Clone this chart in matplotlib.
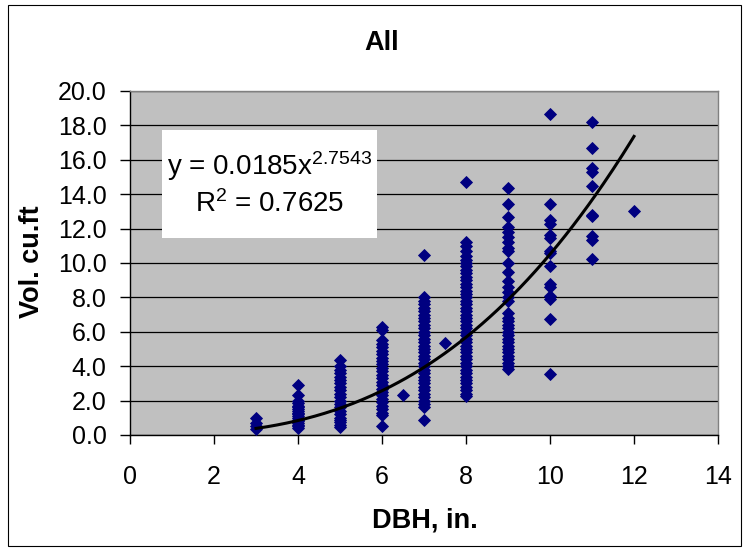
import matplotlib
matplotlib.use("Agg")
import matplotlib.pyplot as plt
import numpy as np
from matplotlib.patches import Rectangle

plt.rcParams['font.family'] = ['Liberation Sans', 'DejaVu Sans']
plt.rcParams['mathtext.fontset'] = 'custom'
plt.rcParams['mathtext.rm'] = 'Liberation Sans'
plt.rcParams['mathtext.it'] = 'Liberation Sans'

# --- data ---
vol_d3 = [0.35, 0.5, 0.7, 1.0]
vol_d4 = [0.4, 0.5, 0.6, 0.7, 0.8, 0.9, 1.0, 1.1, 1.2, 1.3, 1.4, 1.5, 1.6, 1.7,
          1.85, 2.0, 2.3, 2.9]
vol_d5 = [0.45, 0.6, 0.75, 0.9, 1.0, 1.2, 1.4, 1.6, 1.8, 2.0, 2.2, 2.4, 2.6,
          2.8, 3.0, 3.2, 3.4, 3.6, 3.8, 4.0, 4.35]
vol_d6 = [0.55, 1.15, 1.3, 1.5, 1.7, 1.9, 2.1, 2.3, 2.5, 2.7, 2.9, 3.1, 3.3,
          3.5, 3.7, 3.9, 4.1, 4.3, 4.5, 4.7, 4.9, 5.1, 5.3, 5.5, 6.1, 6.3]
vol_d6_5 = [2.35]
vol_d7 = [0.87, 1.65, 1.8, 2.0, 2.2, 2.4, 2.6, 2.8, 3.0, 3.2, 3.4, 3.6, 3.8,
          4.0, 4.2, 4.4, 4.6, 4.8, 5.0, 5.2, 5.4, 5.6, 5.8, 6.0, 6.2, 6.4,
          6.6, 6.8, 7.0, 7.2, 7.4, 7.6, 7.8, 8.0, 10.45]
vol_d7_5 = [5.35]
vol_d8 = [2.25, 2.4, 2.6, 2.8, 3.0, 3.2, 3.4, 3.6, 3.8, 4.0, 4.2, 4.4, 4.6,
          4.8, 5.0, 5.2, 5.4, 5.6, 5.8, 6.0, 6.2, 6.4, 6.6, 6.8, 7.0, 7.2,
          7.4, 7.6, 7.8, 8.0, 8.2, 8.4, 8.6, 8.8, 9.0, 9.2, 9.4, 9.6, 9.8,
          10.0, 10.2, 10.4, 10.7, 11.0, 11.2, 14.7]
vol_d9 = [3.85, 4.0, 4.2, 4.4, 4.6, 4.8, 5.0, 5.2, 5.4, 5.6, 5.8, 6.0, 6.2,
          6.4, 6.6, 6.8, 7.1, 7.8, 8.0, 8.3, 8.6, 8.95, 9.45, 10.0, 10.7,
          10.9, 11.2, 11.5, 11.8, 12.1, 12.7, 13.45, 14.35]
vol_d10 = [3.55, 6.73, 7.88, 8.1, 8.58, 8.77, 9.83, 10.6, 10.68, 11.46, 11.6,
           12.29, 12.48, 13.44, 18.65]
vol_d11 = [10.26, 11.36, 11.55, 12.71, 12.8, 14.45, 15.3, 15.5, 16.67, 18.21]
vol_d12 = [13.04]

dbh_groups = [3, 4, 5, 6, 6.5, 7, 7.5, 8, 9, 10, 11, 12]
vol_groups = [vol_d3, vol_d4, vol_d5, vol_d6, vol_d6_5, vol_d7, vol_d7_5,
              vol_d8, vol_d9, vol_d10, vol_d11, vol_d12]

# power trendline shown on chart: y = a * x^b
trend_a = 0.0185
trend_b = 2.7543
trend_range = [3, 12]

x_ticks = [0, 2, 4, 6, 8, 10, 12, 14]
y_ticks = [0.0, 2.0, 4.0, 6.0, 8.0, 10.0, 12.0, 14.0, 16.0, 18.0, 20.0]

# --- figure ---
W, H = 745, 548
fig = plt.figure(figsize=(W / 100, H / 100), dpi=100)
fig.patch.set_facecolor('white')
fig.patches.append(Rectangle((8 / W, 1 - 546 / H), (741 - 8) / W, (546 - 5) / H,
                             transform=fig.transFigure, fill=False,
                             edgecolor='black', linewidth=0.8))

L, R, T, B = 130, 718, 91, 435
ax = fig.add_axes([L / W, 1 - B / H, (R - L) / W, (B - T) / H])
ax.set_facecolor('#c0c0c0')

xs, ys = [], []
for d, vals in zip(dbh_groups, vol_groups):
    xs.extend([d] * len(vals))
    ys.extend(vals)
ax.plot(xs, ys, linestyle='none', marker='D', markersize=6.3,
        color='#000080', markeredgewidth=0.6, zorder=3)

tx = np.linspace(trend_range[0], trend_range[1], 200)
ax.plot(tx, trend_a * tx ** trend_b, color='black', linewidth=2.2, zorder=4)

ax.set_xlim(0, 14)
ax.set_ylim(0, 20)
ax.set_xticks(x_ticks)
ax.set_yticks(y_ticks)
ax.set_yticklabels([f"{v:.1f}" for v in y_ticks])
ax.yaxis.grid(True, color='black', linewidth=0.9)
ax.set_axisbelow(True)
for s in ['top', 'right']:
    ax.spines[s].set_color('#808080')
    ax.spines[s].set_linewidth(1.0)
for s in ['left', 'bottom']:
    ax.spines[s].set_color('black')
    ax.spines[s].set_linewidth(1.0)

ax.tick_params(axis='x', direction='out', length=6.5, width=1, pad=15,
               labelsize=18)
ax.tick_params(axis='y', direction='out', length=7, width=1, pad=10,
               labelsize=18)

fig.text(425 / W, 1 - 521 / H, 'DBH, in.', fontsize=19.5, fontweight='bold',
         ha='center', va='center')
fig.text(32 / W, 1 - 262 / H, 'Vol. cu.ft', fontsize=19.5, fontweight='bold',
         ha='center', va='center', rotation=90)
fig.text(382 / W, 1 - 43 / H, 'All', fontsize=19.5, fontweight='bold',
         ha='center', va='center')

# equation box
bx0, bx1, by0, by1 = 162, 377, 130, 238
ax.add_patch(Rectangle(((bx0 - L) / (R - L), (B - by1) / (B - T)),
                       (bx1 - bx0) / (R - L), (by1 - by0) / (B - T),
                       transform=ax.transAxes, facecolor='white',
                       edgecolor='none', zorder=5))
cx = ((bx0 + bx1) / 2 - L) / (R - L)
ax.text(cx, (B - 166) / (B - T), f'y = {trend_a}x$^{{{trend_b}}}$',
        transform=ax.transAxes, ha='center', va='center', fontsize=20,
        zorder=6)
ax.text(cx, (B - 204) / (B - T), 'R$^{2}$ = 0.7625',
        transform=ax.transAxes, ha='center', va='center', fontsize=20,
        zorder=6)

fig.savefig('out.png', dpi=100)
